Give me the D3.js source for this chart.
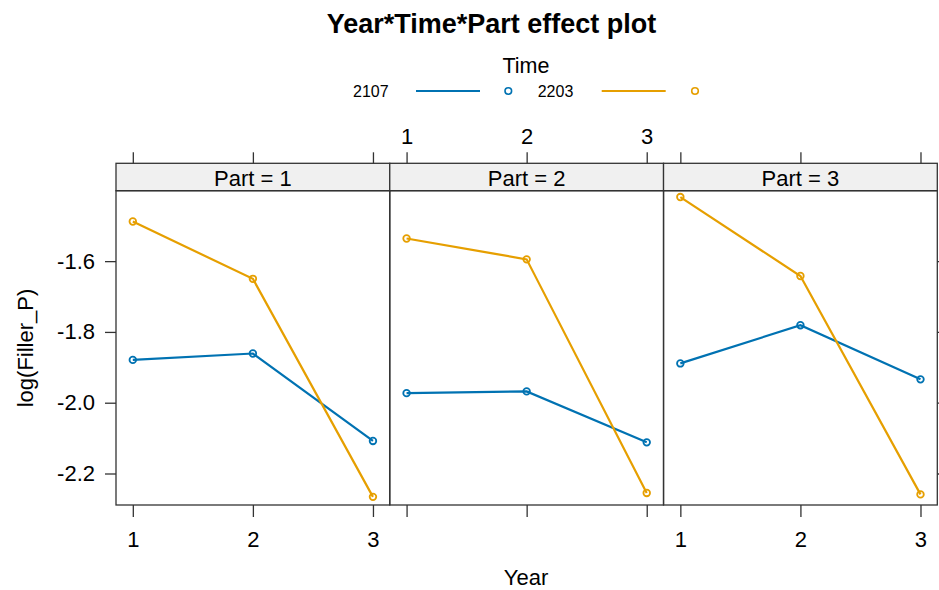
<!DOCTYPE html>
<html>
<head>
<meta charset="utf-8">
<script src="https://cdn.jsdelivr.net/npm/d3@7"></script>
<style>
  html, body { margin: 0; padding: 0; background: #fff; }
  svg { display: block; font-family: "Liberation Sans", Arial, sans-serif; }
</style>
</head>
<body>
<svg id="chart" width="939" height="590"></svg>
<script>
// ---- data ----
const years = [1, 2, 3];
const parts = ["1", "2", "3"];
const timeLevels = ["2107", "2203"];
const time2107 = [
  [-1.879, -1.861, -2.108],
  [-1.973, -1.968, -2.112],
  [-1.889, -1.781, -1.934]
];
const time2203 = [
  [-1.488, -1.650, -2.266],
  [-1.536, -1.595, -2.255],
  [-1.419, -1.642, -2.259]
];
const yTicks = [-1.6, -1.8, -2.0, -2.2];
const xTicks = [1, 2, 3];
const colors = ["#0072B2", "#E69F00"];

// ---- layout ----
const svg = d3.select("#chart");
const panelLeft = 116, panelRight = 937.3;
const panelW = (panelRight - panelLeft) / 3;
const stripTop = 163.3, stripBottom = 190.7, panelBottom = 505;
const borderCol = "#333";
const font = "\"Liberation Sans\", Arial, sans-serif";

const y = d3.scaleLinear().domain([-2.289, -1.401]).range([panelBottom, stripBottom]);

// title
svg.append("text").attr("x", 491.5).attr("y", 33)
  .attr("text-anchor", "middle").attr("font-size", 27).attr("font-weight", "bold")
  .text("Year*Time*Part effect plot");

// legend
svg.append("text").attr("x", 526).attr("y", 73).attr("text-anchor", "middle")
  .attr("font-size", 21.5).text("Time");
const legendX = [{t: 353, l1: 416, l2: 480, p: 508.3}, {t: 537.7, l1: 601.7, l2: 665.7, p: 695}];
timeLevels.forEach((lv, i) => {
  const L = legendX[i];
  svg.append("text").attr("x", L.t).attr("y", 97).attr("font-size", 16).text(lv);
  svg.append("line").attr("x1", L.l1).attr("x2", L.l2).attr("y1", 91).attr("y2", 91)
    .attr("stroke", colors[i]).attr("stroke-width", 2.2);
  svg.append("circle").attr("cx", L.p).attr("cy", 91).attr("r", 3.3)
    .attr("fill", "none").attr("stroke", colors[i]).attr("stroke-width", 1.6);
});

const series = [time2107, time2203];

parts.forEach((p, pi) => {
  const x0 = panelLeft + pi * panelW;
  const x = d3.scaleLinear().domain([0.86, 3.14]).range([x0, x0 + panelW]);
  const g = svg.append("g");

  // strip
  g.append("rect").attr("x", x0).attr("y", stripTop).attr("width", panelW)
    .attr("height", stripBottom - stripTop).attr("fill", "#f0f0f0")
    .attr("stroke", borderCol).attr("stroke-width", 1.3);
  g.append("text").attr("x", x0 + panelW / 2).attr("y", 185.5).attr("text-anchor", "middle")
    .attr("font-size", 22).text("Part = " + p);

  // top ticks (above strip)
  const topAxis = d3.axisTop(x).tickValues(xTicks).tickSize(11).tickPadding(8)
    .tickFormat(pi === 1 ? d3.format("d") : () => "");
  const ta = g.append("g").attr("transform", `translate(0,${stripTop})`).call(topAxis);
  // bottom ticks
  const botAxis = d3.axisBottom(x).tickValues(xTicks).tickSize(12).tickPadding(14)
    .tickFormat(pi !== 1 ? d3.format("d") : () => "");
  const ba = g.append("g").attr("transform", `translate(0,${panelBottom})`).call(botAxis);
  [ta, ba].forEach(a => {
    a.select(".domain").remove();
    a.selectAll("line").attr("stroke", borderCol).attr("stroke-width", 1.3);
    a.selectAll("text").attr("font-size", 22).attr("fill", "#000").attr("font-family", font);
  });

  // left ticks on first panel, right ticks on last panel
  if (pi === 0) {
    const la = g.append("g").attr("transform", `translate(${x0},0)`)
      .call(d3.axisLeft(y).tickValues(yTicks).tickSize(11).tickPadding(10)
        .tickFormat(d => d.toFixed(1)));
    la.select(".domain").remove();
    la.selectAll("line").attr("stroke", borderCol).attr("stroke-width", 1.3);
    la.selectAll("text").attr("font-size", 22).attr("fill", "#000").attr("font-family", font);
  }
  if (pi === 2) {
    const ra = g.append("g").attr("transform", `translate(${x0 + panelW},0)`)
      .call(d3.axisRight(y).tickValues(yTicks).tickSize(11).tickFormat(() => ""));
    ra.select(".domain").remove();
    ra.selectAll("line").attr("stroke", borderCol).attr("stroke-width", 1.3);
  }

  // series
  series.forEach((s, si) => {
    const pts = years.map((yr, k) => [x(yr), y(s[pi][k])]);
    g.append("path").attr("d", d3.line()(pts)).attr("fill", "none")
      .attr("stroke", colors[si]).attr("stroke-width", 2.2);
    g.selectAll(null).data(pts).enter().append("circle")
      .attr("cx", d => d[0]).attr("cy", d => d[1]).attr("r", 3.3)
      .attr("fill", "none").attr("stroke", colors[si]).attr("stroke-width", 1.8);
  });

  // panel border
  g.append("rect").attr("x", x0).attr("y", stripBottom).attr("width", panelW)
    .attr("height", panelBottom - stripBottom).attr("fill", "none")
    .attr("stroke", borderCol).attr("stroke-width", 1.3);
});

// axis titles
svg.append("text").attr("x", 526).attr("y", 585).attr("text-anchor", "middle")
  .attr("font-size", 22).text("Year");
svg.append("text").attr("transform", "translate(33,348) rotate(-90)")
  .attr("text-anchor", "middle").attr("font-size", 22).text("log(Filler_P)");
</script>
</body>
</html>
